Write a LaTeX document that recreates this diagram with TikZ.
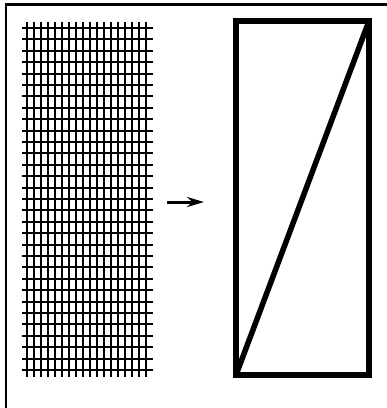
\documentclass[tikz,border=0pt]{standalone}
\usetikzlibrary{positioning,arrows.meta}

\begin{document}
\begin{tikzpicture}[x=1pt, y=-1pt, >={Stealth[length=17pt, width=10pt]},
  gridline/.style={line width=2pt},
  boxline/.style={line width=5.5pt}]
  \path[use as bounding box] (0,0) rectangle (387,408);
  % outer frame, only left and top side show
  \draw[line width=2.4pt] (6,408) -- (6,4.5) -- (387,4.5);
  % mesh
  \foreach \i in {0,...,17}
    \draw[gridline] ({27+7*\i},22) -- ({27+7*\i},377);
  \foreach \j in {0,...,30}
    \draw[gridline] (22,{round(28+11.4*\j)}) -- (153,{round(28+11.4*\j)});
  % arrow
  \coordinate (from) at (167,202);
  \coordinate (to) at (204,202);
  \draw[->, line width=3pt] (from) -- (to);
  % box with diagonal
  \node[draw, boxline, outer sep=0pt, inner sep=0pt, minimum width=133pt, minimum height=354pt, anchor=north west] (box) at (236,21) {};
  \draw[boxline] (box.south west) -- (box.north east);
\end{tikzpicture}
\end{document}
